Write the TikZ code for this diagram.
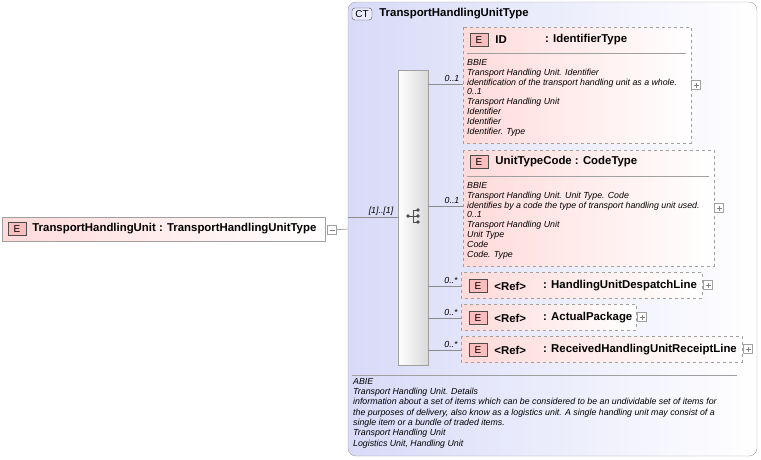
\documentclass[tikz,border=0pt]{standalone}
\usepackage{fontspec}
\setmainfont{Liberation Sans}
\usetikzlibrary{positioning}
\definecolor{ctfill}{RGB}{216, 218, 248}
\definecolor{elfill}{RGB}{255, 218, 218}
\definecolor{badge}{RGB}{250, 190, 190}
\definecolor{frame}{RGB}{160, 160, 160}
\tikzset{
  elem/.style={draw=frame, left color=elfill, right color=white, anchor=north west, inner sep=0pt},
  dashelem/.style={elem, dashed},
  tag/.style={draw=black!70, fill=badge, minimum width=18pt, minimum height=13pt, inner sep=0pt, font=\fontsize{10}{10}\selectfont},
  title/.style={anchor=west, font=\bfseries\fontsize{11.4}{11.4}\selectfont, inner sep=0pt},
  doc/.style={anchor=north west, align=left, inner sep=0pt, font=\itshape\fontsize{8.8}{9.9}\selectfont},
  card/.style={font=\itshape\fontsize{8.8}{8.8}\selectfont, inner sep=0pt},
  pm/.style={draw=frame, fill=white, minimum size=9pt, inner sep=0pt},
  link/.style={draw=black!45, line width=0.6pt}
}
\newcommand{\plusbox}[1]{\node[pm] at (#1) {}; \draw[black!50] ([xshift=-2.5pt]#1) -- ([xshift=2.5pt]#1) ([yshift=-2.5pt]#1) -- ([yshift=2.5pt]#1);}
\begin{document}
\begin{tikzpicture}[x=1pt, y=-1pt]
  \useasboundingbox (0,0) rectangle (761,459);

  % complex type frame
  \draw[frame, rounded corners=8pt, left color=ctfill, right color=white] (348,2) rectangle (757,456);
  \node[draw=black!70, fill=ctfill!70!blue!20, rounded corners=3pt, minimum width=20pt, minimum height=12pt, inner sep=0pt, font=\fontsize{10}{10}\selectfont] (ct) at (362,14) {CT};
  \node[title, right=7pt of ct] (ctname) {TransportHandlingUnitType};

  % sequence bar
  \draw[frame, left color=white, right color=black!15] (398,70) rectangle (428,365);
  \coordinate (seqin) at (398,217);
  \fill[black!70] (408,216) circle (1.8pt);
  \draw[black!70, line width=0.9pt] (408,216) -- (413,216) (413,210) -- (413,222) (413,210) -- (418,210) (413,216) -- (418,216) (413,222) -- (418,222);
  \foreach \yy in {210,216,222} \fill[black!70] (418,\yy) circle (1.8pt);

  % root element
  \draw[frame, left color=elfill, right color=white] (2,217) rectangle (325,241);
  \node[tag] (rootE) at (17,229) {E};
  \node[title, right=6pt of rootE] (root) {TransportHandlingUnit : TransportHandlingUnitType};
  \node[pm] (rootpm) at (332,230) {};
  \draw[black!50] (329.5,230) -- (334.5,230);
  \coordinate (bend) at (348,229);
  \draw[link] (rootpm) -- (bend);
  \draw[link] (348,217) -- (seqin);
  \node[card] at (381,211) {[1]..[1]};

  % ID
  \draw[dashelem] (463,27) rectangle (691,143);
  \node[tag] (idE) at (479,40) {E};
  \node[title, right=7pt of idE] (id) {ID};
  \node[title] at (545,40) {: IdentifierType};
  \draw[frame] (467,53) -- (686,53);
  \node[doc] (iddoc) at (467,59) {BBIE\\Transport Handling Unit. Identifier\\identification of the transport handling unit as a whole.\\0..1\\Transport Handling Unit\\Identifier\\Identifier\\Identifier. Type};
  \plusbox{696,85}
  \coordinate (idin) at (463,84);
  \draw[link] (428,84) -- (idin);
  \node[card] at (452,78) {0..1};

  % UnitTypeCode
  \draw[dashelem] (463,150) rectangle (714,266);
  \node[tag] (utE) at (479,162) {E};
  \node[title, right=7pt of utE] (ut) {UnitTypeCode : CodeType};
  \draw[frame] (467,176) -- (709,176);
  \node[doc] (utdoc) at (467,182) {BBIE\\Transport Handling Unit. Unit Type. Code\\identifies by a code the type of transport handling unit used.\\0..1\\Transport Handling Unit\\Unit Type\\Code\\Code. Type};
  \plusbox{719,208}
  \coordinate (utin) at (463,206);
  \draw[link] (428,206) -- (utin);
  \node[card] at (452,200) {0..1};

  % references
  \foreach \top/\boxw/\nm [count=\k] in {272/241/HandlingUnitDespatchLine, 304/175/ActualPackage, 336/281/ReceivedHandlingUnitReceiptLine} {
    \draw[dashelem] (461,\top) rectangle (461+\boxw,\top+26);
    \node[tag] (refE\k) at (478,\top+14) {E};
    \node[title, right=7pt of refE\k] (ref\k) {<Ref>};
    \node[title] at (543,\top+14) {: \nm};
    \coordinate (pm\k) at (461+\boxw+6,\top+13);
    \plusbox{pm\k}
    \coordinate (refin\k) at (461,\top+14);
    \draw[link] (428,\top+14) -- (refin\k);
    \node[card] at (451,\top+8) {0..*};
  }

  % annotation
  \draw[frame] (352,375) -- (737,375);
  \node[doc, font=\itshape\fontsize{8.8}{10.3}\selectfont] (ctdoc) at (353,378) {ABIE\\Transport Handling Unit. Details\\information about a set of items which can be considered to be an undividable set of items for\\the purposes of delivery, also know as a logistics unit. A single handling unit may consist of a\\single item or a bundle of traded items.\\Transport Handling Unit\\Logistics Unit, Handling Unit};
\end{tikzpicture}
\end{document}
